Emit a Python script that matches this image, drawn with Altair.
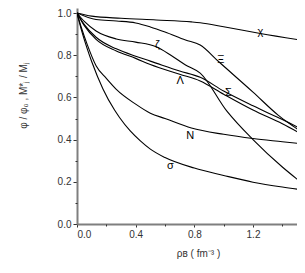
import altair as alt
import pandas as pd

# ---- data ----
series_names = ["χ", "Ξ", "ζ", "Σ", "Λ", "N", "σ"]

chi_x = [0, 0.1, 0.3, 0.54, 0.78, 0.84, 1.0, 1.25, 1.56]
chi_y = [1.0, 0.985, 0.975, 0.967, 0.958, 0.954, 0.935, 0.903, 0.868]

xi_x = [0, 0.13, 0.27, 0.4, 0.5, 0.6, 0.74, 0.84, 0.965, 1.2, 1.373, 1.488, 1.56]
xi_y = [1.0, 0.969, 0.962, 0.953, 0.934, 0.91, 0.872, 0.848, 0.77, 0.625, 0.515, 0.457, 0.42]

zeta_x = [0, 0.05, 0.13, 0.268, 0.4, 0.54, 0.64, 0.74, 0.84, 1.022, 1.2, 1.4, 1.56]
zeta_y = [1.0, 0.96, 0.915, 0.877, 0.862, 0.84, 0.80, 0.754, 0.715, 0.535, 0.40, 0.27, 0.18]

sigma_hyp_x = [0, 0.05, 0.13, 0.268, 0.4, 0.5, 0.7, 0.84, 1.0, 1.2, 1.4, 1.56]
sigma_hyp_y = [1.0, 0.945, 0.885, 0.83, 0.795, 0.772, 0.725, 0.695, 0.63, 0.56, 0.495, 0.44]

lambda_x = [0, 0.05, 0.13, 0.268, 0.4, 0.5, 0.7, 0.84, 1.0, 1.2, 1.4, 1.56]
lambda_y = [1.0, 0.94, 0.875, 0.82, 0.785, 0.756, 0.71, 0.678, 0.615, 0.54, 0.475, 0.415]

n_x = [0, 0.03, 0.07, 0.13, 0.2, 0.268, 0.4, 0.5, 0.6, 0.78, 1.0, 1.2, 1.4, 1.56]
n_y = [1.0, 0.93, 0.85, 0.75, 0.69, 0.638, 0.568, 0.525, 0.5, 0.455, 0.425, 0.405, 0.39, 0.378]

sigma_x = [0, 0.03, 0.07, 0.1, 0.177, 0.256, 0.29, 0.363, 0.432, 0.5, 0.6, 0.8, 1.0, 1.2, 1.4, 1.56]
sigma_y = [1.0, 0.92, 0.83, 0.77, 0.64, 0.54, 0.505, 0.441, 0.394, 0.355, 0.315, 0.265, 0.23, 0.198, 0.175, 0.16]

label_text = ["χ", "Ξ", "ζ", "Λ", "Σ", "N", "σ"]
label_x = [1.25, 0.98, 0.548, 0.704, 1.033, 0.772, 0.636]
label_y = [0.912, 0.778, 0.847, 0.676, 0.621, 0.418, 0.277]

x_major = [0.0, 0.4, 0.8, 1.2]
x_minor = [0.2, 0.6, 1.0, 1.4]
y_major = [0.0, 0.2, 0.4, 0.6, 0.8, 1.0]
y_minor = [0.1, 0.3, 0.5, 0.7, 0.9]

# ---- tables ----
all_x = [chi_x, xi_x, zeta_x, sigma_hyp_x, lambda_x, n_x, sigma_x]
all_y = [chi_y, xi_y, zeta_y, sigma_hyp_y, lambda_y, n_y, sigma_y]
rows = []
for name, xs, ys in zip(series_names, all_x, all_y):
    for i, (xv, yv) in enumerate(zip(xs, ys)):
        rows.append({"series": name, "x": xv, "y": yv, "order": i})
df = pd.DataFrame(rows)
lab_df = pd.DataFrame({"t": label_text, "x": label_x, "y": label_y})

FONT = "Liberation Sans"
sx = alt.Scale(domain=[0, 1.5], nice=False, zero=False)
sy = alt.Scale(domain=[0, 1.0237], nice=False, zero=False)

lines = alt.Chart(df).mark_line(
    color="black", strokeWidth=1.1, interpolate="monotone", clip=True
).encode(
    x=alt.X("x:Q", scale=sx, axis=alt.Axis(
        orient="bottom", values=x_major, format=".1f", grid=False,
        tickSize=3, tickColor="#333333", tickWidth=1,
        domainColor="#7f7f7f", domainWidth=2,
        labelFont=FONT, labelFontSize=10, labelColor="#333333", labelPadding=2,
        title="ρʙ ( fm⁻³ )", titleFont=FONT, titleFontSize=10,
        titleFontWeight="normal", titleColor="#333333",
        titleX=121, titleY=29, titleAlign="center", titleBaseline="middle")),
    y=alt.Y("y:Q", scale=sy, axis=alt.Axis(
        orient="left", values=y_major, format=".1f", grid=False,
        tickSize=4, tickColor="#333333", tickWidth=1,
        domainColor="#7f7f7f", domainWidth=2,
        labelFont=FONT, labelFontSize=10, labelColor="#333333", labelPadding=2,
        title="φ / φ₀ ,  M*ⱼ / Mⱼ", titleFont=FONT, titleFontSize=10,
        titleFontWeight="normal", titleColor="#333333",
        titleX=-54, titleY=87, titleAlign="center", titleBaseline="middle")),
    detail="series:N",
    order="order:Q",
)

labels = alt.Chart(lab_df).mark_text(
    font=FONT, fontSize=11, color="black"
).encode(
    x=alt.X("x:Q", scale=sx, axis=alt.Axis(
        orient="bottom", values=x_minor, labels=False, domain=False, grid=False,
        tickSize=2, tickColor="#333333", title="")),
    y=alt.Y("y:Q", scale=sy, axis=alt.Axis(
        orient="left", values=y_minor, labels=False, domain=False, grid=False,
        tickSize=2, tickColor="#333333", title="")),
    text="t:N",
)

chart = alt.layer(lines, labels).resolve_axis(
    x="independent", y="independent"
).properties(
    width=220, height=216,
    autosize=alt.AutoSizeParams(type="none"),
    padding={"left": 69, "top": 0, "right": 0, "bottom": 35},
).configure_view(strokeWidth=0)

chart.save("out.html", embed_options={"renderer": "svg", "actions": False})
